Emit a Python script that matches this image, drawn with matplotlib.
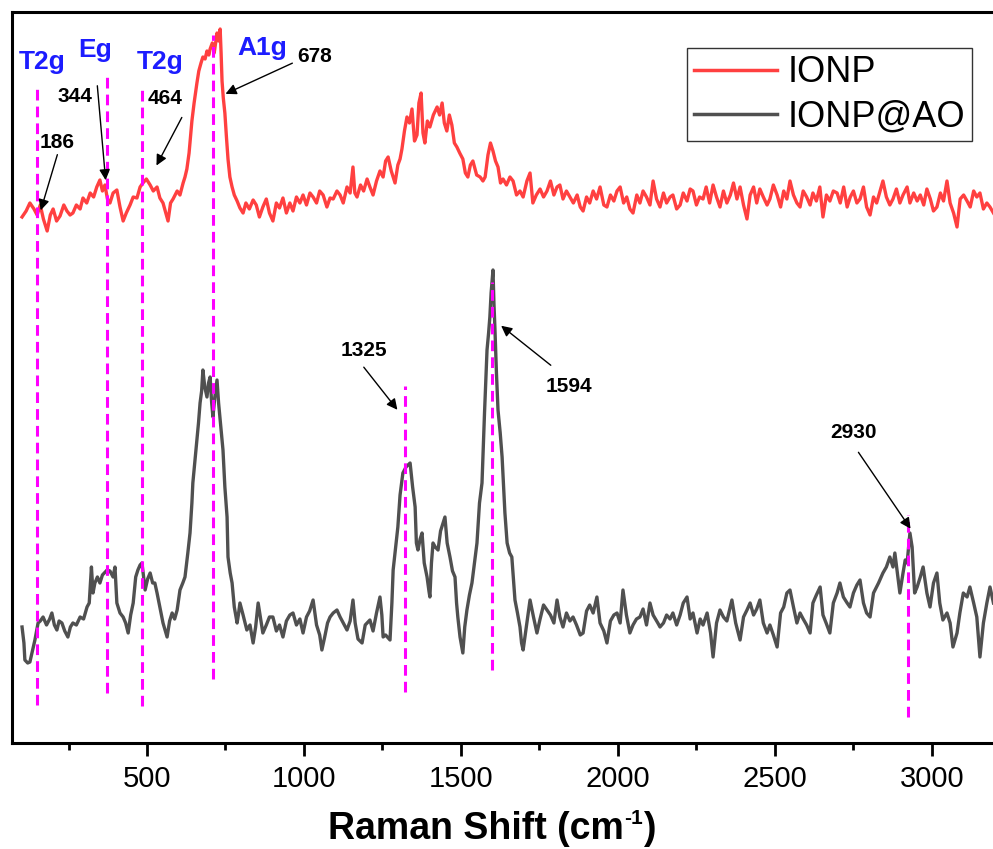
import numpy as np
import matplotlib.pyplot as plt
from matplotlib.lines import Line2D

plt.rcParams['font.family'] = ['Liberation Sans', 'DejaVu Sans']

# IONP spectrum (Raman shift cm-1, intensity a.u.)
ionp_shift = [102, 115, 127, 140, 150, 160, 170, 182, 192, 201, 212, 223, 235, 245, 255, 264, 275, 287, 296, 308,
              319, 330, 340, 350, 358, 366, 374, 382, 392, 404, 414, 424, 434, 446, 456, 468, 478, 487, 498, 510,
              520, 532, 541, 551, 560, 567, 575, 583, 596, 605, 615, 621, 627, 634, 643, 650, 659, 665, 672, 678,
              685, 691, 697, 701, 708, 714, 723, 728, 733, 736, 739, 743, 748, 753, 758, 764, 771, 778, 787, 796,
              806, 815, 826, 838, 848, 858, 869, 880, 890, 901, 912, 922, 933, 944, 955, 965, 976, 987, 997, 1008,
              1019, 1029, 1040, 1050, 1061, 1073, 1083, 1093, 1105, 1115, 1125, 1137, 1147, 1156, 1162, 1169, 1180,
              1190, 1201, 1210, 1220, 1231, 1242, 1252, 1260, 1268, 1278, 1290, 1299, 1306, 1312, 1320, 1328, 1336,
              1344, 1352, 1360, 1366, 1373, 1379, 1385, 1393, 1401, 1412, 1424, 1432, 1440, 1447, 1455, 1463, 1471,
              1479, 1487, 1496, 1506, 1514, 1522, 1530, 1538, 1550, 1561, 1570, 1577, 1586, 1594, 1602, 1610, 1618,
              1626, 1634, 1645, 1656, 1666, 1677, 1688, 1698, 1710, 1720, 1729, 1740, 1752, 1763, 1774, 1785, 1796,
              1806, 1815, 1825, 1836, 1847, 1858, 1870, 1880, 1889, 1900, 1910, 1921, 1932, 1943, 1955, 1965, 1976,
              1987, 1997, 2007, 2018, 2028, 2038, 2048, 2060, 2070, 2080, 2091, 2102, 2112, 2123, 2134, 2145, 2155,
              2166, 2175, 2187, 2198, 2208, 2220, 2230, 2239, 2250, 2260, 2271, 2281, 2292, 2303, 2314, 2325, 2336,
              2347, 2358, 2368, 2379, 2389, 2400, 2411, 2421, 2432, 2442, 2452, 2463, 2475, 2484, 2495, 2507, 2518,
              2528, 2538, 2548, 2559, 2570, 2580, 2590, 2601, 2612, 2621, 2632, 2643, 2653, 2664, 2675, 2686, 2698,
              2708, 2719, 2730, 2740, 2750, 2761, 2771, 2782, 2792, 2803, 2814, 2824, 2835, 2844, 2855, 2866, 2876,
              2887, 2898, 2908, 2921, 2930, 2942, 2953, 2963, 2974, 2984, 2995, 3005, 3016, 3027, 3037, 3048, 3058,
              3069, 3080, 3090, 3101, 3112, 3122, 3133, 3143, 3153, 3164, 3175, 3185, 3196]
ionp_int = [526, 532, 540, 534, 528, 538, 524, 512, 528, 534, 522, 527, 538, 532, 528, 530, 538, 534, 545, 540,
            550, 546, 556, 563, 552, 558, 544, 540, 550, 553, 536, 522, 530, 538, 546, 545, 556, 560, 564, 558,
            552, 556, 545, 540, 530, 522, 540, 544, 552, 548, 560, 566, 574, 590, 622, 640, 660, 672, 680, 686,
            684, 692, 688, 694, 700, 690, 710, 702, 714, 690, 662, 645, 630, 606, 584, 566, 556, 548, 542, 535,
            530, 540, 534, 543, 538, 526, 536, 544, 530, 522, 540, 535, 545, 530, 540, 532, 546, 540, 548, 538,
            550, 546, 540, 552, 548, 536, 545, 544, 552, 548, 540, 556, 550, 576, 550, 546, 558,
            552, 564, 556, 548, 562, 572, 566, 582, 586, 572, 560, 578, 584, 594, 612, 626, 620,
            634, 602, 608, 640, 650, 610, 600, 622, 616, 628, 636, 628, 640, 620, 612, 628, 618,
            600, 596, 590, 584, 570, 566, 578, 582, 568, 566, 562, 566, 588, 600, 592, 582, 576,
            560, 564, 558, 566, 562, 548, 552, 546, 562, 570, 540, 548, 554, 546, 552, 562, 548,
            556, 558, 544, 552, 546, 540, 548, 536, 532, 546, 540, 552, 544, 556, 538, 536, 548,
            542, 552, 556, 540, 546, 534, 530, 548, 540, 552, 546, 538, 562, 544, 536, 550, 540,
            546, 548, 534, 538, 550, 542, 554, 552, 538, 546, 544, 556, 540, 558, 546, 536, 552,
            540, 548, 560, 544, 556, 538, 524, 548, 556, 540, 554, 546, 538, 544, 558, 548, 536,
            552, 544, 562, 548, 540, 536, 552, 546, 538, 550, 542, 556, 526, 548, 542, 552, 550,
            540, 556, 536, 546, 552, 540, 544, 556, 536, 528, 546, 540, 552, 562, 546, 538, 544,
            554, 540, 548, 556, 540, 550, 542, 548, 538, 554, 544, 532, 536, 550, 542, 562, 540,
            530, 516, 544, 548, 542, 536, 552, 546, 550, 534, 540, 536, 530]

# IONP@AO spectrum
ao_shift = [102, 108, 111, 120, 127, 135, 143, 153, 160, 169, 180, 190, 197, 205, 213, 220, 229, 238, 248, 256,
            264, 275, 287, 298, 309, 316, 323, 328, 334, 342, 350, 358, 373, 382, 392, 398, 404, 414, 424, 432,
            440, 448, 456, 464, 471, 478, 484, 494, 502, 510, 518, 525, 532, 541, 551, 564, 572, 580, 588, 596,
            605, 614, 621, 630, 637, 643, 646, 652, 659, 664, 669, 674, 678, 684, 691, 696, 701, 706, 710, 716,
            723, 728, 733, 738, 742, 748, 755, 758, 765, 771, 778, 787, 791, 796, 806, 818, 828, 838, 846, 854,
            862, 869, 880, 890, 901, 912, 922, 933, 944, 955, 965, 976, 987, 997, 1008, 1018, 1029, 1040, 1050,
            1057, 1066, 1075, 1083, 1093, 1105, 1115, 1125, 1137, 1147, 1156, 1163, 1172, 1185, 1195, 1210, 1220,
            1231, 1242, 1248, 1252, 1260, 1274, 1280, 1284, 1292, 1299, 1306, 1315, 1325, 1338, 1346, 1354, 1358,
            1363, 1370, 1376, 1383, 1392, 1398, 1401, 1406, 1411, 1418, 1427, 1435, 1449, 1456, 1465, 1473, 1481,
            1486, 1490, 1497, 1506, 1512, 1519, 1527, 1535, 1543, 1551, 1559, 1567, 1575, 1583, 1588, 1592, 1596,
            1602, 1605, 1608, 1613, 1618, 1625, 1631, 1640, 1647, 1655, 1662, 1668, 1672, 1680, 1688, 1693, 1698,
            1710, 1720, 1731, 1742, 1752, 1763, 1774, 1785, 1796, 1806, 1815, 1825, 1836, 1847, 1857, 1868, 1880,
            1889, 1900, 1910, 1921, 1933, 1943, 1955, 1965, 1976, 1987, 1997, 2007, 2016, 2027, 2038, 2048, 2059,
            2070, 2080, 2091, 2102, 2112, 2127, 2134, 2145, 2155, 2166, 2175, 2187, 2198, 2208, 2220, 2230, 2239,
            2252, 2262, 2271, 2284, 2295, 2303, 2314, 2325, 2336, 2347, 2363, 2375, 2389, 2400, 2411, 2421, 2432,
            2442, 2452, 2463, 2475, 2484, 2495, 2507, 2518, 2528, 2538, 2548, 2559, 2570, 2580, 2590, 2601, 2612,
            2621, 2632, 2644, 2653, 2663, 2675, 2686, 2698, 2707, 2718, 2730, 2739, 2750, 2761, 2771, 2782, 2792,
            2803, 2814, 2830, 2844, 2855, 2866, 2876, 2882, 2890, 2898, 2908, 2915, 2921, 2930, 2937, 2945, 2953,
            2963, 2972, 2984, 2994, 3005, 3016, 3025, 3035, 3048, 3058, 3067, 3080, 3089, 3100, 3112, 3121, 3133,
            3143, 3153, 3164, 3175, 3185, 3196]
ao_int = [116, 100, 83, 80, 81, 92, 103, 120, 122, 126, 118, 124, 130, 118, 113, 122, 120, 112, 106, 116,
          120, 118, 126, 124, 136, 140, 176, 150, 160, 166, 160, 168, 173, 172, 166, 176, 140, 130, 126, 120,
          110, 128, 140, 166, 173, 178, 180, 153, 164, 170, 160, 160, 150, 136, 120, 106, 122, 130, 124, 133,
          153, 160, 166, 190, 210, 240, 260, 280, 303, 320, 340, 352, 373, 356, 346, 360, 366, 340, 326, 346,
          363, 340, 323, 306, 293, 256, 226, 186, 170, 160, 136, 120, 128, 140, 128, 113, 118, 100, 116, 140,
          124, 110, 118, 126, 126, 112, 118, 106, 122, 128, 130, 118, 124, 110, 126, 132, 143, 118, 108,
          93, 106, 120, 126, 130, 133, 126, 120, 113, 122, 143, 120, 104, 100, 118, 123, 112,
          130, 146, 128, 106, 108, 103, 140, 173, 196, 216, 248, 270, 276, 280, 256, 236, 200,
          193, 204, 210, 180, 166, 152, 146, 180, 200, 196, 193, 212, 226, 200, 186, 172, 166,
          140, 126, 106, 90, 116, 133, 148, 160, 180, 200, 240, 260, 330, 393, 410, 426, 450,
          473, 440, 416, 370, 333, 310, 286, 230, 200, 190, 186, 160, 143, 130, 116, 100, 93,
          120, 143, 126, 110, 124, 138, 133, 128, 120, 143, 126, 116, 130, 122, 126, 118, 108,
          110, 132, 138, 130, 146, 120, 112, 100, 122, 128, 130, 120, 153, 128, 110, 118, 124,
          126, 134, 118, 140, 128, 120, 116, 120, 128, 124, 130, 118, 128, 140, 146, 124, 130,
          110, 124, 118, 130, 110, 86, 120, 133, 126, 122, 143, 120, 103, 126, 133, 140, 128,
          134, 143, 120, 110, 118, 108, 96, 130, 136, 150, 153, 136, 120, 130, 124, 118, 110,
          140, 148, 156, 128, 120, 110, 140, 150, 160, 146, 140, 136, 150, 158, 163, 140, 130,
          126, 150, 160, 170, 176, 186, 176, 190, 170, 150, 170, 183, 180, 210, 196, 150, 156,
          166, 176, 150, 136, 160, 170, 140, 123, 130, 120, 96, 110, 130, 150, 146, 156, 140,
          126, 86, 120, 140, 156, 140]

# assignment lines: position and vertical extent
band_pos = [150, 373, 484, 710, 1322, 1599, 2924]
band_lo = [38, 50, 37, 64, 51, 73, 26]
band_hi = [658, 668, 656, 708, 357, 461, 228]

mode_labels = ['T2g', 'Eg', 'T2g', 'A1g']
mode_x = [166, 334, 541, 866]
mode_y = [681, 693, 681, 695]

peak_labels = ['186', '344', '464', '678', '1325', '1594', '2930']
peak_text = [(213, 600), (271, 647), (557, 645), (1035, 686), (1191, 392), (1844, 357), (2749, 310)]
arrow_tail = [(217, 591), (341, 660), (615, 628), (971, 681), (1185, 378), (1793, 376), (2761, 293)]
arrow_head = [(159, 530), (369, 560), (526, 575), (742, 648), (1303, 331), (1621, 419), (2937, 212)]

red = '#ff4040'
grey = '#505050'

fig = plt.figure(figsize=(9.93, 8.49), dpi=100)
ax = fig.add_axes([12 / 993, 1 - 743 / 849, 982.7 / 993, 731 / 849])

ax.plot(ionp_shift, ionp_int, color=red, lw=2.4)
ax.plot(ao_shift, ao_int, color=grey, lw=2.4)

for xp, lo, hi in zip(band_pos, band_lo, band_hi):
    ax.plot([xp, xp], [lo, hi], color='#ff00ff', lw=2.2, dashes=(3.5, 2.0))

for lab, xm, ym in zip(mode_labels, mode_x, mode_y):
    ax.text(xm, ym, lab, color='#1c1cff', fontsize=19, fontweight='bold', ha='center', va='center')

for lab, tp, tail, head in zip(peak_labels, peak_text, arrow_tail, arrow_head):
    ax.text(tp[0], tp[1], lab, fontsize=15, fontweight='bold', ha='center', va='center')
    ax.annotate('', xy=head, xytext=tail,
                arrowprops=dict(arrowstyle='-|>', color='black', lw=1.0, mutation_scale=16))

ax.set_xlim(70, 3200)
ax.set_ylim(0, 731)
ax.set_yticks([])
ax.set_xticks([500, 1000, 1500, 2000, 2500, 3000])
ax.set_xticks([250, 750, 1250, 1750, 2250, 2750], minor=True)
ax.tick_params(axis='x', which='major', direction='out', length=9, width=2, labelsize=21, pad=7)
ax.tick_params(axis='x', which='minor', direction='out', length=5, width=2)
for sp in ax.spines.values():
    sp.set_linewidth(2.2)

# x label built in pieces so the superscript keeps a plain hyphen
fig.canvas.draw()
r = fig.canvas.get_renderer()
base_y = 1 - 839 / 849
p1 = fig.text(0, base_y, 'Raman Shift (cm', fontsize=27, fontweight='bold', va='baseline')
p2 = fig.text(0, base_y + 15 / 849, '-1', fontsize=15, fontweight='bold', va='baseline')
p3 = fig.text(0, base_y, ')', fontsize=27, fontweight='bold', va='baseline')
w1 = p1.get_window_extent(r).width
w2 = p2.get_window_extent(r).width
w3 = p3.get_window_extent(r).width
x0 = 492 - (w1 + w2 + w3) / 2
p1.set_x(x0 / 993)
p2.set_x((x0 + w1) / 993)
p3.set_x((x0 + w1 + w2) / 993)

handles = [Line2D([], [], color=red, lw=2.5), Line2D([], [], color=grey, lw=2.5)]
leg = ax.legend(handles, ['IONP', 'IONP@AO'], loc='upper left', bbox_to_anchor=(687 / 993, 1 - 48 / 849),
                bbox_transform=fig.transFigure, fontsize=26, frameon=True, fancybox=False,
                edgecolor='black', handlelength=2.3, handletextpad=0.28, borderpad=0.2,
                labelspacing=0.25, borderaxespad=0)
leg.get_frame().set_linewidth(1.0)

fig.savefig('out.png', dpi=100)
